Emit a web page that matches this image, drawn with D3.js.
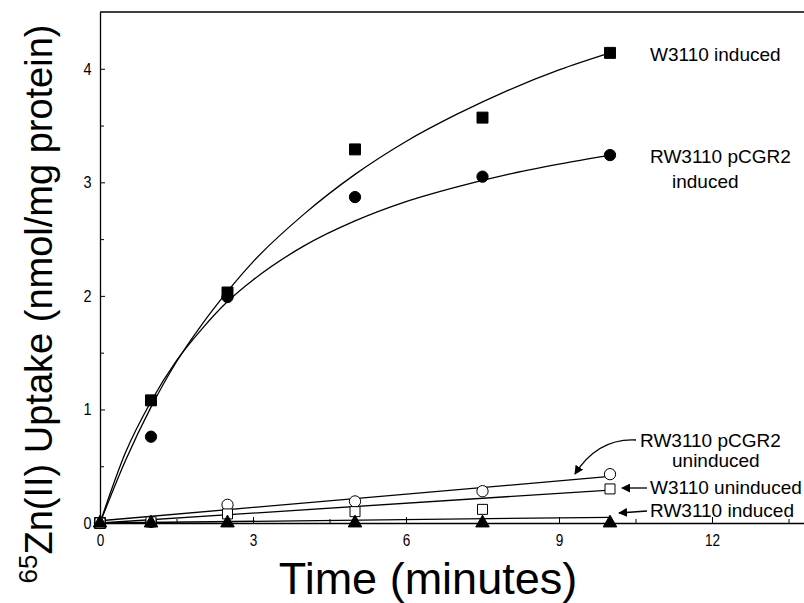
<!DOCTYPE html>
<html>
<head>
<meta charset="utf-8">
<script src="https://cdn.jsdelivr.net/npm/d3@7"></script>
<style>
	body { margin: 0; background: #fff; }
	svg { display: block; }
	.tick text { font-family: "Liberation Sans", Arial, sans-serif; font-size: 17px; fill: #000; }
	.note { font-family: "Liberation Sans", Arial, sans-serif; font-size: 19px; fill: #000; }
</style>
</head>
<body>
<script>
"use strict";

// measured times (minutes)
let times = [0, 1, 2.5, 5, 7.5, 10];

// 65Zn(II) uptake, nmol/mg protein
let w3110Induced     = [0, 1.08, 2.03, 3.29, 3.57, 4.14];
let rw3110pInduced   = [0, 0.76, 1.99, 2.87, 3.05, 3.24];
let rw3110pUninduced = [0, 0.01, 0.16, 0.19, 0.28, 0.43];
let w3110Uninduced   = [0, 0.01, 0.08, 0.10, 0.12, 0.30];
let rw3110Induced    = [0, 0, 0, 0, 0, 0];

// fitted curves
let fitTimes = [0, 0.5, 1, 1.5, 2, 2.5, 3, 4, 5, 6, 7, 8, 9, 10];
let w3110InducedFit   = [0, 0.55, 1.02, 1.42, 1.75, 2.04, 2.30, 2.72, 3.07, 3.36, 3.60, 3.81, 3.99, 4.14];
let rw3110pInducedFit = [0, 0.62, 1.07, 1.43, 1.71, 1.95, 2.14, 2.44, 2.66, 2.83, 2.96, 3.07, 3.16, 3.24];

// straight fits for the low series
let lineTimes = [0, 10];
let rw3110pUnindFit = [0.02, 0.41];
let w3110UnindFit   = [0.0, 0.29];
let rw3110IndFit    = [0.0, 0.05];

let xTicks = [0, 3, 6, 9, 12];
let yTicks = [0, 1, 2, 3, 4];

let width = 804, height = 603;

let svg = d3.select("body").append("svg")
	.attr("width", width)
	.attr("height", height);

let defs = svg.append("defs");
defs.append("marker")
	.attr("id", "head")
	.attr("viewBox", "0 0 10 10")
	.attr("refX", 9).attr("refY", 5)
	.attr("markerWidth", 9).attr("markerHeight", 9)
	.attr("markerUnits", "userSpaceOnUse")
	.attr("orient", "auto")
	.append("path")
		.attr("d", "M0,0 L10,5 L0,10 Z")
		.attr("fill", "#000");

let x = d3.scaleLinear().domain([0, 14]).range([100, 814]);
let y = d3.scaleLinear().domain([0, 4.5]).range([523, 12]);

// frame: top line and axes
svg.append("line")
	.attr("x1", x(0)).attr("x2", width)
	.attr("y1", y(4.5)).attr("y2", y(4.5))
	.attr("stroke", "#000").attr("stroke-width", 1.5);

// minor ticks
let xMinor = d3.range(1.5, 14, 3);
let yMinor = d3.range(0.5, 4.5, 1);

let xAxis = svg.append("g")
	.attr("transform", "translate(0," + y(0) + ")")
	.call(d3.axisBottom(x).tickValues(xTicks).tickFormat(d3.format("d"))
		.tickSizeInner(-6).tickSizeOuter(0).tickPadding(11));
xAxis.selectAll(".tick").filter(function (d) { return d === 0; }).select("line").remove();
xAxis.select(".domain").attr("stroke-width", 1.3);
// labels in the original are condensed
xAxis.selectAll(".tick text").attr("transform", "scale(0.8,1)");

svg.append("g")
	.attr("transform", "translate(0," + y(0) + ")")
	.call(d3.axisBottom(x).tickValues(xMinor).tickFormat("").tickSizeInner(-4).tickSizeOuter(0))
	.select(".domain").remove();

let yAxis = svg.append("g")
	.attr("transform", "translate(" + x(0) + ",0)")
	.call(d3.axisLeft(y).tickValues(yTicks).tickFormat(d3.format("d"))
		.tickSizeInner(-5).tickSizeOuter(0).tickPadding(10));
yAxis.selectAll(".tick").filter(function (d) { return d === 0; }).select("line").remove();
yAxis.select(".domain").attr("stroke-width", 1.3);
yAxis.selectAll(".tick text").attr("transform", "scale(0.85,1)");

svg.append("g")
	.attr("transform", "translate(" + x(0) + ",0)")
	.call(d3.axisLeft(y).tickValues(yMinor).tickFormat("").tickSizeInner(-4).tickSizeOuter(0))
	.select(".domain").remove();

// axis titles
svg.append("text")
	.attr("x", 428).attr("y", 594)
	.attr("text-anchor", "middle")
	.style("font-family", "'Liberation Sans', Arial, sans-serif")
	.style("font-size", "45px")
	.text("Time (minutes)");

let yTitle = svg.append("text")
	.attr("transform", "translate(52,304) rotate(-90)")
	.attr("text-anchor", "middle")
	.style("font-family", "'Liberation Sans', Arial, sans-serif")
	.style("font-size", "38px");
yTitle.append("tspan")
	.attr("dy", -15)
	.style("font-size", "26px")
	.text("65");
yTitle.append("tspan")
	.attr("dy", 15)
	.text("Zn(II) Uptake (nmol/mg protein)");

// fitted lines
let line = d3.line()
	.x(function (d) { return x(d[0]); })
	.y(function (d) { return y(d[1]); });

let smooth = d3.line()
	.curve(d3.curveMonotoneX)
	.x(function (d) { return x(d[0]); })
	.y(function (d) { return y(d[1]); });

let fits = [
	{ path: smooth, data: d3.zip(fitTimes, w3110InducedFit) },
	{ path: smooth, data: d3.zip(fitTimes, rw3110pInducedFit) },
	{ path: line, data: d3.zip(lineTimes, rw3110pUnindFit) },
	{ path: line, data: d3.zip(lineTimes, w3110UnindFit) },
	{ path: line, data: d3.zip(lineTimes, rw3110IndFit) }
];

svg.selectAll(".fit")
	.data(fits)
	.enter()
	.append("path")
		.attr("class", "fit")
		.attr("d", function (d) { return d.path(d.data); })
		.attr("fill", "none")
		.attr("stroke", "#000")
		.attr("stroke-width", 1.3);

// data symbols
let series = [
	{ vals: w3110Induced, shape: d3.symbolSquare, size: 120, fill: "#000" },
	{ vals: rw3110pInduced, shape: d3.symbolCircle, size: 100, fill: "#000" },
	{ vals: rw3110pUninduced, shape: d3.symbolCircle, size: 100, fill: "#fff" },
	{ vals: w3110Uninduced, shape: d3.symbolSquare, size: 100, fill: "#fff" },
	{ vals: rw3110Induced, shape: d3.symbolTriangle, size: 80, fill: "#000" }
];

series.forEach(function (s) {
	svg.append("g").selectAll("path")
		.data(d3.zip(times, s.vals))
		.enter()
		.append("path")
			.attr("transform", function (d) { return "translate(" + x(d[0]) + "," + y(d[1]) + ")"; })
			.attr("d", d3.symbol().type(s.shape).size(s.size))
			.attr("fill", s.fill)
			.attr("stroke", "#000")
			.attr("stroke-width", 1);
});

// labels
let notes = [
	{ x: 650, y: 61, t: "W3110 induced" },
	{ x: 650, y: 163, t: "RW3110 pCGR2" },
	{ x: 672, y: 188, t: "induced" },
	{ x: 640, y: 447, t: "RW3110 pCGR2" },
	{ x: 672, y: 467, t: "uninduced" },
	{ x: 650, y: 494, t: "W3110 uninduced" },
	{ x: 650, y: 517, t: "RW3110 induced" }
];

svg.selectAll(".note")
	.data(notes)
	.enter()
	.append("text")
		.attr("class", "note")
		.attr("x", function (d) { return d.x; })
		.attr("y", function (d) { return d.y; })
		.text(function (d) { return d.t; });

// arrows
let arrows = [
	"M636,440 Q598,438 575,474",
	"M647,488 L622,488",
	"M647,511 L619,513"
];

svg.selectAll(".arrow")
	.data(arrows)
	.enter()
	.append("path")
		.attr("class", "arrow")
		.attr("d", function (d) { return d; })
		.attr("fill", "none")
		.attr("stroke", "#000")
		.attr("stroke-width", 1.3)
		.attr("marker-end", "url(#head)");
</script>
</body>
</html>
